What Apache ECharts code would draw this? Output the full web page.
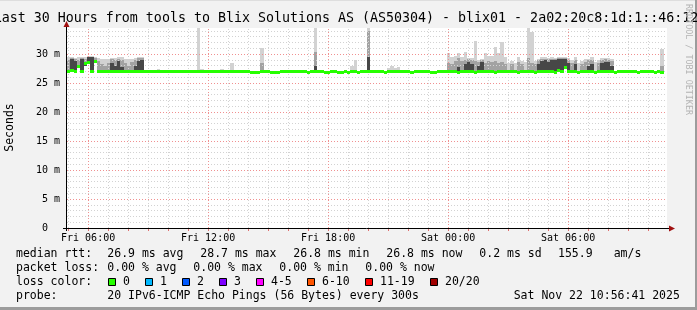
<!DOCTYPE html>
<html><head><meta charset="utf-8">
<script src="https://cdn.jsdelivr.net/npm/echarts@6/dist/echarts.min.js"></script>
<style>html,body{margin:0;padding:0;background:#f2f2f2}#c{width:697px;height:310px}</style>
</head><body><div id="c"></div><script>
const _ = null;
// time axis: hours since Fri 00:00; graph covers 30 hours ending Sat 10:56:41
const startHour = 4 + 56/60 + 41/3600;
const stepHours = 1/6; // 10-minute steps
const yMax = 34.48; // ms

// median rtt (ms), one value per 10-minute step
const median = [
27.0,27.2,26.9,27.8,26.9,28.3, 28.5,26.9,28.7,26.9,26.9,26.9,
26.9,26.9,26.9,26.9,26.9,26.9, 26.9,26.9,26.9,26.9,26.9,26.9,
26.9,26.9,26.9,26.9,26.9,26.9, 26.9,26.9,26.9,26.9,26.9,26.9,
26.9,26.9,26.9,26.9,26.9,26.9, 26.9,26.9,26.9,26.9,26.9,26.9,
26.9,26.9,26.9,26.9,26.9,26.9, 26.9,26.8,26.8,26.8,26.9,26.9,
26.9,26.8,26.8,26.8,26.9,26.9, 26.9,26.9,26.9,26.9,26.9,26.9,
26.8,26.9,26.9,26.9,26.9,26.8, 26.8,26.9,26.9,26.8,26.8,26.9,
26.8,26.9,26.9,26.8,26.9,26.9, 26.9,26.9,26.9,26.9,26.9,26.8,
26.9,26.9,26.9,26.9,26.9,26.9, 26.9,26.8,26.9,26.9,26.9,26.9,
26.9,26.8,26.8,26.9,26.9,26.9, 26.9,26.9,26.9,26.8,26.9,26.9,
26.9,26.9,26.8,26.9,26.9,26.9, 26.9,26.9,26.8,26.9,26.9,26.9,
26.9,26.9,26.9,26.8,26.9,26.9, 26.9,26.9,26.8,26.9,26.9,26.9,
26.9,26.9,26.8,27.2,26.9,27.6, 26.9,26.9,26.9,26.8,26.9,26.9,
26.9,26.9,26.8,26.9,26.9,26.9, 26.9,26.9,26.8,26.9,26.9,26.9,
26.9,26.9,26.9,26.8,26.9,26.9, 26.9,26.9,26.8,26.9,26.8
];
// smoke: highest ping of the step (ms)
const smokeMax = [
29.4,29.4,29.3,29.4,29.5,29.5, 29.6,29.6,29.5,29.3,29.2,29.2,
29.1,29.3,29.3,29.4,29.4,29.2, 29.1,29.2,29.3,29.5,29.5,_,
_,_,_,27.4,_,_, _,_,_,_,_,_,
_,_,_,34.5,27.4,_, _,_,_,_,27.4,_,
_,28.5,_,_,_,_, _,_,_,_,31.1,_,
_,_,_,_,_,_, _,_,_,_,_,_,
_,_,34.5,_,_,_, _,_,_,_,_,_,
_,28.0,29.0,_,_,_, 34.5,_,_,_,_,_,
27.6,27.9,27.6,27.7,_,_, _,_,_,_,_,_,
_,_,_,_,_,_, 30.2,29.5,29.6,30.2,29.5,30.4,
29.3,29.3,32.3,29.0,29.2,30.1, 29.6,29.6,31.2,30.1,32.0,29.4,
28.4,28.8,28.4,29.4,28.8,28.6, 34.5,33.8,28.8,29.2,29.4,29.4,
29.3,29.4,29.3,29.4,29.5,29.5, 29.3,29.0,29.5,28.5,28.8,29.2,
29.2,29.4,28.6,29.0,29.3,29.3, 29.3,29.2,_,_,_,_,
_,_,_,_,_,_, _,_,_,_,30.8
];
// smoke: upper quartile of the pings (ms)
const smokeMid = [
29.0,29.3,29.2,29.0,29.3,29.2, 29.5,29.5,29.3,28.8,28.3,28.0,
28.5,29.1,29.0,29.2,29.0,28.4, 28.0,28.6,29.0,29.3,29.3,_,
_,_,_,_,_,_, _,_,_,_,_,_,
_,_,_,_,_,_, _,_,_,_,_,_,
_,_,_,_,_,_, _,_,_,_,28.5,_,
_,_,_,_,_,_, _,_,_,_,_,_,
_,_,30.4,_,_,_, _,_,_,_,_,_,
_,_,_,_,_,_, 34.0,_,_,_,_,_,
_,_,_,_,_,_, _,_,_,_,_,_,
_,_,_,_,_,_, 28.5,28.3,28.8,29.3,28.8,29.0,
29.1,29.0,28.8,28.6,29.0,28.4, 28.8,28.6,28.8,28.4,28.6,28.3,
_,28.2,_,28.6,28.2,_, 29.3,28.5,28.2,28.9,29.2,29.2,
29.1,29.2,29.2,29.3,29.3,29.3, 29.0,28.4,29.0,_,28.3,28.7,
28.9,28.9,_,28.5,29.0,29.1, 29.0,28.8,_,_,_,_,
_,_,_,_,_,_, _,_,_,_,28.0
];
// smoke: dense core of the pings (ms)
const smokeInner = [
_,29.2,28.8,27.8,29.2,28.0, 29.4,29.4,29.0,_,_,_,
_,28.5,28.0,28.8,27.8,_, _,_,28.0,28.8,29.0,_,
_,_,_,_,_,_, _,_,_,_,_,_,
_,_,_,_,_,_, _,_,_,_,_,_,
_,_,_,_,_,_, _,_,_,_,_,_,
_,_,_,_,_,_, _,_,_,_,_,_,
_,_,28.0,_,_,_, _,_,_,_,_,_,
_,_,_,_,_,_, 29.5,_,_,_,_,_,
_,_,_,_,_,_, _,_,_,_,_,_,
_,_,_,_,_,_, _,_,_,27.8,_,28.3,
28.6,28.2,_,28.0,28.7,_, _,_,_,_,_,_,
_,_,_,_,_,_, _,_,_,28.3,28.8,28.9,
28.7,28.9,29.0,29.1,29.1,29.2, 28.4,_,28.2,_,_,_,
28.0,28.2,_,_,28.5,28.7, 28.6,28.0,_,_,_,_,
_,_,_,_,_,_, _,_,_,_,_
];

const xTickHours = [6, 12, 18, 24, 30];
const xTickLabels = ['Fri 06:00', 'Fri 12:00', 'Fri 18:00', 'Sat 00:00', 'Sat 06:00'];
const yLabelStep = 5;

const lossLabels = ['0', '1', '2', '3', '4-5', '6-10', '11-19', '20/20'];
const lossColors = ['#26ff00', '#00b8ff', '#0059ff', '#7e00ff', '#ff00ff', '#ff5500', '#ff0000', '#a10000'];

const titleText = 'Last 30 Hours from tools to Blix Solutions AS (AS50304) - blix01 - 2a02:20c8:1d:1::46:12';
const statRtt = ['median rtt:', '26.9 ms avg', '28.7 ms max', '26.8 ms min', '26.8 ms now', '0.2 ms sd', '155.9', 'am/s'];
const statLoss = ['packet loss:', '0.00 % avg', '0.00 % max', '0.00 % min', '0.00 % now'];
const probeText = ['probe:', '20 IPv6-ICMP Echo Pings (56 Bytes) every 300s', 'Sat Nov 22 10:56:41 2025'];

// ---------------------------------------------------------------
const FONT = '"DejaVu Sans Mono"';
const G = {left: 67, top: 28, width: 600, height: 200};

const hourTicks = [];
for (let h = Math.ceil(startHour); h <= startHour + 30; h++) hourTicks.push(h);
const minorX = hourTicks.filter(h => h % 6 !== 0);
const majorX = hourTicks.filter(h => h % 6 === 0);
const minorY = [], majorY = [];
for (let v = 1; v < yMax; v++) (v % 5 === 0 ? majorY : minorY).push(v);

function layerData(arr) {
  const out = [];
  arr.forEach((v, i) => { if (v != null) out.push([startHour + i * stepHours, median[i], v]); });
  return out;
}
function smokeSeries(arr, color, z) {
  return {
    type: 'custom', z: z, silent: true, clip: true, animation: false,
    data: layerData(arr), encode: {x: 0, y: [1, 2]},
    renderItem: function (params, api) {
      const t = api.value(0);
      const p1 = api.coord([t, api.value(2)]);
      const p2 = api.coord([t + stepHours, api.value(1)]);
      const x1 = Math.round(p1[0]), x2 = Math.round(p2[0]);
      const y1 = Math.round(p1[1]), y2 = Math.round(p2[1]);
      return {type: 'rect', shape: {x: x1, y: y1, width: x2 - x1, height: y2 - y1}, style: {fill: color}};
    }
  };
}
const medianSeries = {
  type: 'custom', z: 10, silent: true, clip: true, animation: false,
  data: median.map((m, i) => [startHour + i * stepHours, m]), encode: {x: 0, y: 1},
  renderItem: function (params, api) {
    const t = api.value(0);
    const p1 = api.coord([t, api.value(1)]);
    const p2 = api.coord([t + stepHours, api.value(1)]);
    const x1 = Math.round(p1[0]), x2 = Math.round(p2[0]);
    return {type: 'rect', shape: {x: x1, y: Math.round(p1[1] - 1.5), width: x2 - x1, height: 3}, style: {fill: lossColors[0]}};
  }
};
function gridSeries(xs, ys, color) {
  return {
    type: 'line', data: [], z: 1, silent: true, animation: false,
    markLine: {
      silent: true, symbol: ['none', 'none'], label: {show: false}, animation: false,
      lineStyle: {color: color, type: [1, 2], width: 1},
      emphasis: {disabled: true},
      data: xs.map(h => ({xAxis: h})).concat(ys.map(v => ({yAxis: v})))
    }
  };
}

const txt = (x, y, s, size, extra) => Object.assign({
  type: 'text', x: x, y: y, silent: true,
  style: {text: s, font: size + 'px ' + FONT, fill: '#000', align: 'left', verticalAlign: 'middle'}
}, extra || {});

const graphics = [];
graphics.push({type: 'rect', silent: true, shape: {x: 695, y: 0, width: 2, height: 310}, style: {fill: '#9c9c9c'}});
graphics.push({type: 'rect', silent: true, shape: {x: 0, y: 307, width: 697, height: 3}, style: {fill: '#9c9c9c'}});
graphics.push({type: 'rect', silent: true, shape: {x: 0, y: 0, width: 695, height: 1}, style: {fill: '#dedede'}});
graphics.push(txt(346, 19, titleText, 13.3, {style: {text: titleText, font: '13.3px ' + FONT, fill: '#000', align: 'center', verticalAlign: 'middle'}}));
graphics.push({type: 'text', x: 688.5, y: 59.5, rotation: -Math.PI / 2, silent: true,
  style: {text: 'RRDTOOL / TOBI OETIKER', font: '8.4px ' + FONT, fill: '#b4b4b4', align: 'center', verticalAlign: 'middle'}});
graphics.push({type: 'text', x: 10.5, y: 127.5, rotation: Math.PI / 2, silent: true,
  style: {text: 'Seconds', font: '11.5px ' + FONT, fill: '#000', align: 'center', verticalAlign: 'middle'}});
// axes with arrows
graphics.push({type: 'line', silent: true, z: 20, shape: {x1: 63, y1: 228.5, x2: 670, y2: 228.5}, style: {stroke: '#000', lineWidth: 1}});
graphics.push({type: 'line', silent: true, z: 20, shape: {x1: 66.5, y1: 231, x2: 66.5, y2: 26}, style: {stroke: '#000', lineWidth: 1}});
graphics.push({type: 'polygon', silent: true, z: 20, shape: {points: [[669, 225.5], [675, 228.5], [669, 231.5]]}, style: {fill: '#a01010'}});
graphics.push({type: 'polygon', silent: true, z: 20, shape: {points: [[63.5, 27], [66.5, 21], [69.5, 27]]}, style: {fill: '#a01010'}});
// legend / stats
const rttX = [16, 107.3, 200.3, 293.3, 386.3, 479.3, 558, 613.7];
statRtt.forEach((s, i) => graphics.push(txt(rttX[i], 254.3, s, 11.5)));
const lossX = [16, 107.3, 193.3, 279.3, 365.3];
statLoss.forEach((s, i) => graphics.push(txt(lossX[i], 268.3, s, 11.5)));
graphics.push(txt(16, 282.3, 'loss color:', 11.5));
const boxX = [108.5, 145.5, 182.5, 219.5, 256.5, 307.5, 365.5, 430.5];
lossLabels.forEach((s, i) => {
  graphics.push({type: 'rect', silent: true, shape: {x: boxX[i], y: 278.5, width: 7, height: 7}, style: {fill: lossColors[i], stroke: '#000', lineWidth: 1}});
  graphics.push(txt(boxX[i] + 14.5, 282.3, s, 11.5));
});
const probeX = [16, 107.3, 513.7];
probeText.forEach((s, i) => graphics.push(txt(probeX[i], 296, s, 11.5)));

const chart = echarts.init(document.getElementById('c'), null, {renderer: 'canvas'});
chart.setOption({
  animation: false,
  backgroundColor: '#f2f2f2',
  grid: {left: G.left, top: G.top, width: G.width, height: G.height, show: true, backgroundColor: '#ffffff', borderWidth: 0, containLabel: false},
  xAxis: {
    type: 'value', min: startHour, max: startHour + 30,
    axisLine: {show: false}, splitLine: {show: false},
    axisTick: {show: true, customValues: hourTicks, length: 3, lineStyle: {color: '#e07070'}},
    axisLabel: {customValues: xTickHours, margin: 5, fontFamily: 'DejaVu Sans Mono', fontSize: 10, color: '#000',
      formatter: v => xTickLabels[xTickHours.indexOf(Math.round(v))] || ''}
  },
  yAxis: {
    type: 'value', min: 0, max: yMax, interval: yLabelStep,
    axisLine: {show: false}, axisTick: {show: false}, splitLine: {show: false},
    axisLabel: {showMaxLabel: false, margin: 7, fontFamily: 'DejaVu Sans Mono', fontSize: 10, color: '#000',
      formatter: v => (v === 0 ? '0  ' : v + ' m')}
  },
  series: [
    gridSeries(minorX, minorY, '#d2d2d2'),
    gridSeries(majorX, majorY, '#f09090'),
    smokeSeries(smokeMax, '#d2d2d2', 3),
    smokeSeries(smokeMid, '#a2a2a2', 4),
    smokeSeries(smokeInner, '#474747', 5),
    medianSeries
  ],
  graphic: graphics
});
</script></body></html>
